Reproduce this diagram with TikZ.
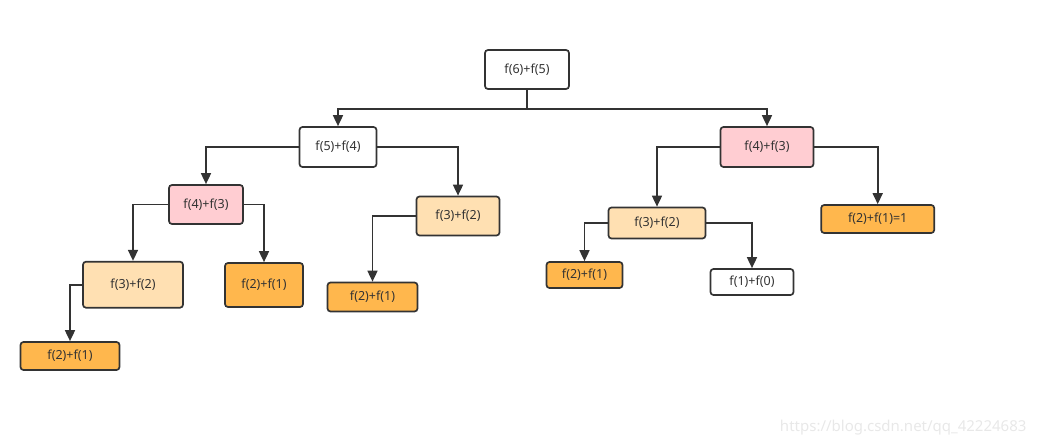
\documentclass[tikz,border=0pt]{standalone}
\usepackage{fontspec}
\setmainfont{Noto Sans}
\usetikzlibrary{arrows.meta}

\definecolor{linec}{HTML}{333333}
\definecolor{pinkc}{HTML}{FFCDD2}
\definecolor{peachc}{HTML}{FFE0B2}
\definecolor{orangec}{HTML}{FFB74D}

\tikzset{
  box/.style={draw=linec, line width=1.7pt, rounded corners=3pt, inner sep=0pt,
    text=linec, font=\fontsize{12.5}{14}\selectfont},
  arr/.style={draw=linec, line width=1.7pt, -{Triangle[length=11pt, width=10pt]}}
}

\begin{document}
\begin{tikzpicture}[x=1pt, y=-1pt]
\useasboundingbox (0,0) rectangle (1037,446);

\node (R) at (527, 69.5) [box, fill=white, minimum width=84pt, minimum height=39pt] {f(6)+f(5)};

\node (A) at (338, 147) [box, fill=white, minimum width=77pt, minimum height=40pt] {f(5)+f(4)};
\node (B) at (767, 147) [box, fill=pinkc, minimum width=93pt, minimum height=40pt] {f(4)+f(3)};

\node (C) at (206, 204.5) [box, fill=pinkc, minimum width=74pt, minimum height=39pt] {f(4)+f(3)};
\node (D) at (458, 216) [box, fill=peachc, minimum width=83pt, minimum height=39pt] {f(3)+f(2)};
\node (E) at (133, 284.7) [box, fill=peachc, minimum width=100pt, minimum height=46pt] {f(3)+f(2)};
\node (F) at (264, 285) [box, fill=orangec, minimum width=78pt, minimum height=44pt] {f(2)+f(1)};
\node (G) at (70, 356) [box, fill=orangec, minimum width=99pt, minimum height=28pt] {f(2)+f(1)};
\node (H) at (372.5, 297) [box, fill=orangec, minimum width=90pt, minimum height=29pt] {f(2)+f(1)};

\node (J) at (657, 223) [box, fill=peachc, minimum width=97pt, minimum height=31pt] {f(3)+f(2)};
\node (K) at (877.7, 219) [box, fill=orangec, minimum width=113pt, minimum height=28pt] {f(2)+f(1)=1};
\node (L) at (584.5, 275) [box, fill=orangec, minimum width=76pt, minimum height=26pt] {f(2)+f(1)};
\node (M) at (752, 282) [box, fill=white, minimum width=83pt, minimum height=26pt] {f(1)+f(0)};

\draw[arr] (R.south) -- ++(0,19) -| (A.north);
\draw[arr] (R.south) -- ++(0,19) -| (B.north);

\draw[arr] (A.west) -| (C.north);
\draw[arr] (A.east) -| (D.north);
\draw[arr] (C.west) -| (E.north);
\draw[arr] (C.east) -| (F.north);
\draw[arr] (E.west) -| (G.north);
\draw[arr] (D.west) -| (H.north);

\draw[arr] (B.west) -| (J.north);
\draw[arr] (B.east) -| (K.north);
\draw[arr] (J.west) -| (L.north);
\draw[arr] (J.east) -| (M.north);

\node (W) at (1030, 428) [anchor=east, text=black!9, font=\fontsize{15}{17}\selectfont] {https://blog.csdn.net/qq\_42224683};
\end{tikzpicture}
\end{document}
